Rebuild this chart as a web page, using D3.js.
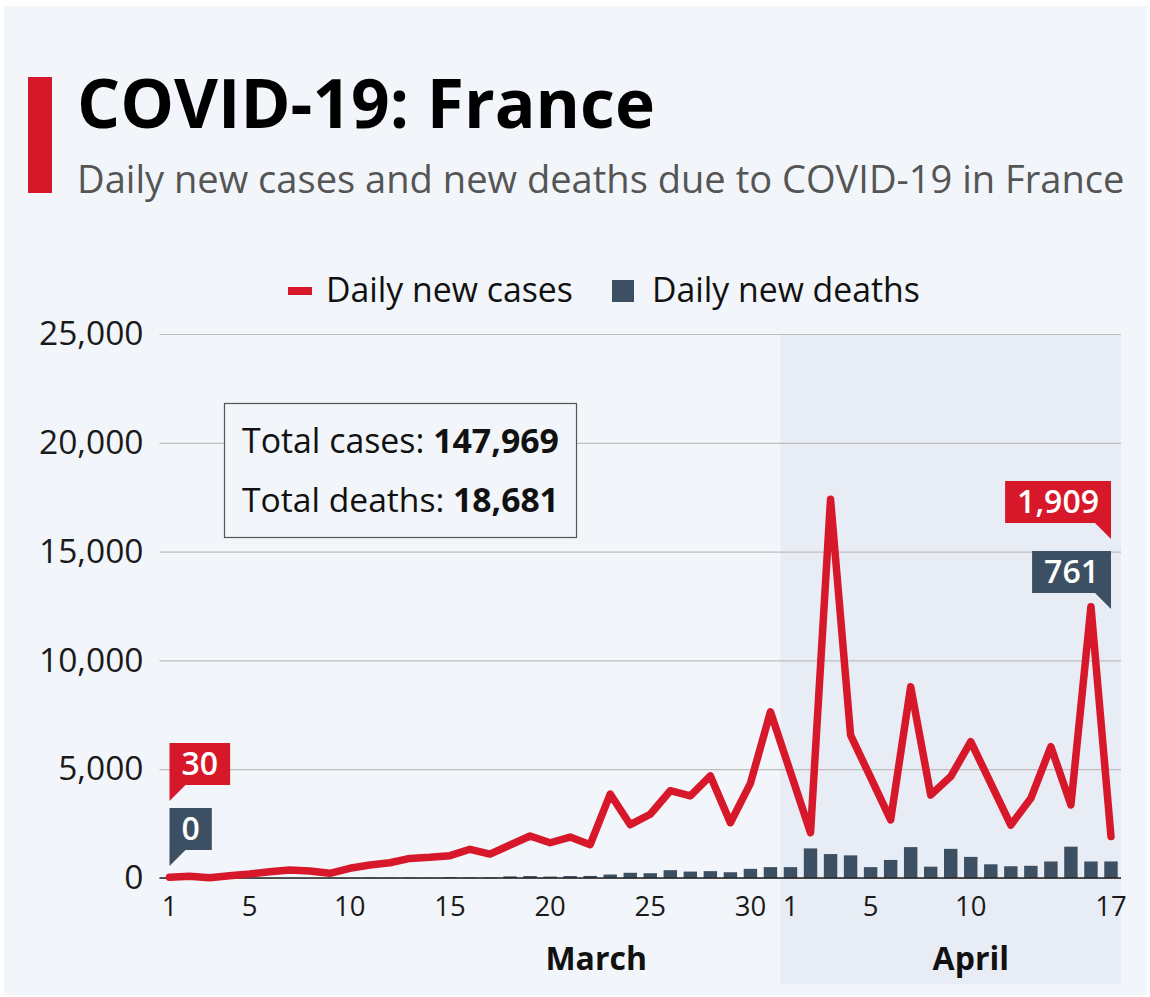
<!DOCTYPE html>
<html><head><meta charset="utf-8">
<script src="https://cdn.jsdelivr.net/npm/d3@7"></script>
<style>body{margin:0;background:#fff;} text{font-family:"Open Sans",sans-serif;}</style>
</head><body><svg id="c" width="1150" height="997"></svg>
<script>
const dates = ["Mar 1","Mar 2","Mar 3","Mar 4","Mar 5","Mar 6","Mar 7","Mar 8","Mar 9","Mar 10",
 "Mar 11","Mar 12","Mar 13","Mar 14","Mar 15","Mar 16","Mar 17","Mar 18","Mar 19","Mar 20",
 "Mar 21","Mar 22","Mar 23","Mar 24","Mar 25","Mar 26","Mar 27","Mar 28","Mar 29","Mar 30","Mar 31",
 "Apr 1","Apr 2","Apr 3","Apr 4","Apr 5","Apr 6","Apr 7","Apr 8","Apr 9","Apr 10",
 "Apr 11","Apr 12","Apr 13","Apr 14","Apr 15","Apr 16","Apr 17"];
const newCases = [30,80,10,100,180,290,370,320,215,445,
 600,700,900,950,1025,1320,1100,1515,1930,1620,
 1880,1530,3860,2450,2930,4010,3770,4690,2540,4350,7640,
 4860,2080,17410,6570,4620,2670,8790,3815,4660,6265,
 4350,2435,3660,6035,3355,12470,1909];
const newDeaths = [0,0,1,0,2,3,2,0,6,3,
 15,13,18,12,36,21,27,75,90,65,
 90,95,160,240,220,360,295,315,265,420,500,
 500,1360,1100,1040,500,830,1420,520,1340,970,
 630,540,560,760,1440,760,761];
const xTickDates = ["Mar 1","Mar 5","Mar 10","Mar 15","Mar 20","Mar 25","Mar 30","Apr 1","Apr 5","Apr 10","Apr 17"];
const yTicks = [0,5000,10000,15000,20000,25000];
const totalCases = 147969, totalDeaths = 18681;

const RED = "#d7182a", DARK = "#3d5063", BG = "#f2f5f9", SHADE = "#e8edf5";
const svg = d3.select("#c");
const fmt = d3.format(",");

function fit(sel, w){
  const fs = parseFloat(sel.attr("font-size"));
  const len = sel.node().getComputedTextLength();
  sel.attr("font-size", fs * w / len);
  return sel;
}

svg.append("rect").attr("x",4).attr("y",6).attr("width",1143).attr("height",989).attr("fill",BG);

// Title
svg.append("rect").attr("x",28).attr("y",77).attr("width",24).attr("height",116).attr("fill",RED);
fit(svg.append("text").attr("x",77).attr("y",128).attr("font-size",68).attr("font-weight",700)
  .attr("fill","#000").text("COVID-19: France"), 578);
fit(svg.append("text").attr("x",77).attr("y",193).attr("font-size",37).attr("fill","#555")
  .text("Daily new cases and new deaths due to COVID-19 in France"), 1048);

// Legend
svg.append("rect").attr("x",288).attr("y",287).attr("width",24).attr("height",8).attr("fill",RED);
fit(svg.append("text").attr("x",326).attr("y",302).attr("font-size",31).attr("fill","#111").text("Daily new cases"), 247);
svg.append("rect").attr("x",612).attr("y",280).attr("width",22).attr("height",22).attr("fill",DARK);
fit(svg.append("text").attr("x",652).attr("y",302).attr("font-size",31).attr("fill","#111").text("Daily new deaths"), 268);

// Scales
const L = 159.5, R = 1121;
const x = d3.scaleBand().domain(dates).range([L, R]).paddingInner(0.33).paddingOuter(0.165);
const cx = d => x(d) + x.bandwidth()/2;
const y = d3.scaleLinear().domain([0,25000]).range([878,334]);

// Shaded April region
const aprStart = cx("Apr 1") - x.step()/2;
svg.append("rect").attr("x",aprStart).attr("y",y(25000)).attr("width",R - aprStart)
  .attr("height",984 - y(25000)).attr("fill",SHADE);

// Y axis / gridlines
const yg = svg.append("g").attr("transform",`translate(${L},0)`)
  .call(d3.axisLeft(y).tickValues(yTicks).tickSize(-(R-L)).tickPadding(16).tickFormat(fmt));
yg.select(".domain").remove();
yg.selectAll("line").attr("stroke","#bdbdbd").attr("stroke-width",1.2);
yg.selectAll("text").attr("font-size",33.5).attr("fill","#1a1a1a").attr("font-family","Open Sans");

// Bars
svg.append("g").selectAll("rect").data(dates).join("rect")
  .attr("x", d => x(d)).attr("width", x.bandwidth())
  .attr("y", (d,i) => y(newDeaths[i])).attr("height", (d,i) => y(0) - y(newDeaths[i]))
  .attr("fill", DARK);

// Baseline
svg.append("line").attr("x1",L).attr("x2",R).attr("y1",y(0)).attr("y2",y(0))
  .attr("stroke","#222").attr("stroke-width",1.6);

// X axis
const xg = svg.append("g").attr("transform",`translate(0,${y(0)})`)
  .call(d3.axisBottom(x).tickValues(xTickDates).tickSize(0).tickPadding(18).tickFormat(d => d.split(" ")[1]));
xg.select(".domain").remove();
xg.selectAll("text").attr("font-size",27.5).attr("fill","#1a1a1a").attr("font-family","Open Sans");

svg.append("text").attr("x",cx("Mar 22")+6).attr("y",970).attr("text-anchor","middle")
  .attr("font-size",32).attr("font-weight",700).attr("fill","#111").text("March");
svg.append("text").attr("x",cx("Apr 10")).attr("y",970).attr("text-anchor","middle")
  .attr("font-size",32).attr("font-weight",700).attr("fill","#111").text("April");

// Line
const line = d3.line().x(d => cx(d)).y((d,i) => y(newCases[i]));
svg.append("path").datum(dates).attr("d", line).attr("fill","none").attr("stroke",RED)
  .attr("stroke-width",7.5).attr("stroke-linejoin","round").attr("stroke-linecap","round");

// Callouts
function callout(xa, top, label, color, side){
  const g = svg.append("g");
  const t = g.append("text").attr("font-size",32).attr("font-weight",600).attr("fill","#fff")
    .attr("text-anchor","middle").text(label);
  const w = t.node().getComputedTextLength() + 24;
  const h = 42, bottom = top + h;
  const x0 = side === "left" ? xa : xa - w;
  g.insert("rect","text").attr("x",x0).attr("y",top).attr("width",w).attr("height",h).attr("fill",color);
  const tri = side === "left"
    ? [[xa,bottom],[xa+16,bottom],[xa,bottom+16]]
    : [[xa-16,bottom],[xa,bottom],[xa,bottom+16]];
  g.insert("polygon","text").attr("points", tri.map(p=>p.join(",")).join(" ")).attr("fill",color);
  t.attr("x", x0 + w/2).attr("y", top + 32);
}
const first = dates[0], last = dates[dates.length-1];
callout(cx(first), 743, fmt(newCases[0]), RED, "left");
callout(cx(first), 808, fmt(newDeaths[0]), DARK, "left");
callout(cx(last), 481, fmt(newCases[newCases.length-1]), RED, "right");
callout(cx(last), 551, fmt(newDeaths[newDeaths.length-1]), DARK, "right");

// Totals box
svg.append("rect").attr("x",224.5).attr("y",403.5).attr("width",352).attr("height",134)
  .attr("fill",BG).attr("stroke","#555").attr("stroke-width",1.2);
const t1 = svg.append("text").attr("x",242).attr("y",453).attr("font-size",29).attr("fill","#111");
t1.append("tspan").text("Total cases: ");
t1.append("tspan").attr("font-weight",700).text(fmt(totalCases));
fit(t1, 317);
const t2 = svg.append("text").attr("x",242).attr("y",512).attr("font-size",29).attr("fill","#111");
t2.append("tspan").text("Total deaths: ");
t2.append("tspan").attr("font-weight",700).text(fmt(totalDeaths));
fit(t2, 317);
</script></body></html>
